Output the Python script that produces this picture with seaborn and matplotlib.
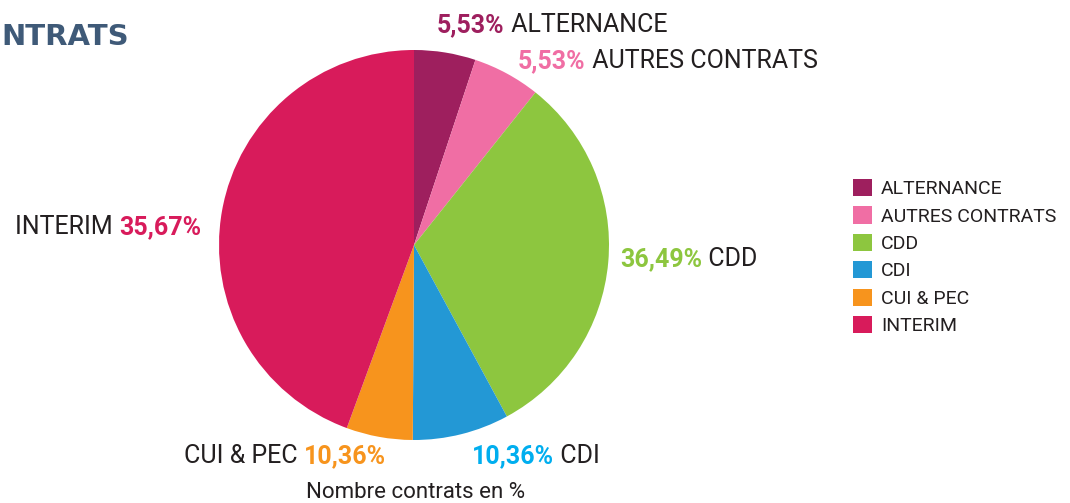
import matplotlib
matplotlib.use("Agg")
import matplotlib.pyplot as plt
import seaborn as sns
from matplotlib.patches import Patch

# data
categories = ["ALTERNANCE", "AUTRES CONTRATS", "CDD", "CDI", "CUI & PEC", "INTERIM"]
shares = [5.1, 5.6, 31.4, 8.0, 5.5, 44.4]          # slice sizes as drawn
pct_labels = ["5,53%", "5,53%", "36,49%", "10,36%", "10,36%", "35,67%"]  # as printed
slice_colors = ["#9E1F5E", "#F06EA4", "#8DC63F", "#2398D5", "#F7941D", "#D81B5B"]
pct_colors = ["#9E1F5E", "#F06EA4", "#8DC63F", "#00AEEF", "#F7941D", "#D81B5B"]

sns.set_theme(style="white")
plt.rcParams['font.family'] = ['Roboto', 'DejaVu Sans']

W, H = 1070, 503
fig = plt.figure(figsize=(W / 100, H / 100), dpi=100)
fig.patch.set_facecolor("white")

# pie centred at (414, 245) px, radius 195 px
cx, cy, r = 414, 245, 195
ax = fig.add_axes([(cx - r) / W, (H - cy - r) / H, 2 * r / W, 2 * r / H])
wedges, _ = ax.pie(shares, colors=slice_colors, startangle=90, counterclock=False,
                   wedgeprops=dict(linewidth=0))
ax.set_xlim(-1, 1)
ax.set_ylim(-1, 1)
ax.set_aspect("equal")
ax.axis("off")

dark = "#231F20"
fs = 18

# label layout: (x px, y px, pct first?)
layout = [
    (437, 25, True),
    (518, 61, True),
    (620, 259, True),
    (472, 456, True),
    (386, 456, False),
    (201, 227, False),
]

for (x, y, pct_first), name, pct, col in zip(layout, categories, pct_labels, pct_colors):
    if pct_first:
        t = fig.text(x / W, 1 - y / H, pct, color=col, fontsize=fs, fontweight="bold",
                     ha="left", va="center")
        ax.annotate(" " + name, xy=(1, 0.5), xycoords=t, ha="left", va="center",
                    color=dark, fontsize=fs, annotation_clip=False)
    else:
        t = fig.text(x / W, 1 - y / H, pct, color=col, fontsize=fs, fontweight="bold",
                     ha="right", va="center")
        ax.annotate(name + " ", xy=(0, 0.5), xycoords=t, ha="right", va="center",
                    color=dark, fontsize=fs, annotation_clip=False)

# title (only the visible part of it)
fig.text(1 / W, 1 - 37 / H, "NTRATS", color="#3F5A78", fontsize=21,
         fontweight="bold", family="DejaVu Sans", ha="left", va="center")

fig.text(416 / W, 1 - 492 / H, "Nombre contrats en %", color=dark, fontsize=16,
         ha="center", va="center")

handles = [Patch(facecolor=c, edgecolor="none") for c in slice_colors]
fig.legend(handles, categories, loc="upper left", bbox_to_anchor=(853 / W, 1 - 179 / H),
           frameon=False, fontsize=14, handlelength=0.98, handleheight=0.98,
           handletextpad=0.46, labelspacing=0.42, borderpad=0, borderaxespad=0,
           labelcolor=dark)

fig.savefig("out.png", dpi=100)
